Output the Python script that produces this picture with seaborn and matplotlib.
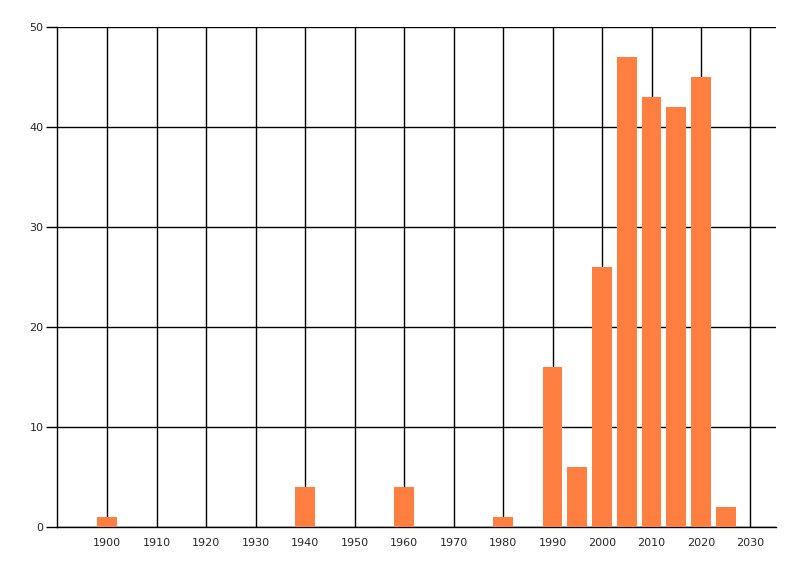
import matplotlib
matplotlib.use("Agg")
import matplotlib.pyplot as plt
import seaborn as sns
import pandas as pd

years = [1900, 1940, 1960, 1980, 1990, 1995, 2000, 2005, 2010, 2015, 2020, 2025]
counts = [1, 4, 4, 1, 16, 6, 26, 47, 43, 42, 45, 2]
x_ticks = list(range(1900, 2031, 10))
y_ticks = [0, 10, 20, 30, 40, 50]

df = pd.DataFrame({"year": years, "count": counts})

sns.set_style("white")
plt.rcParams["font.family"] = ["DejaVu Sans"]

fig = plt.figure(figsize=(8, 5.76), dpi=100)
ax = fig.add_axes([57.3/800, 1 - 527/576, (775.7 - 57.3)/800, (527 - 27)/576])
ax.set_axisbelow(True)

sns.barplot(data=df, x="year", y="count", native_scale=True, width=0.8,
            color="#FF7F40", saturation=1, edgecolor="none", ax=ax, zorder=3)

ax.set_xlim(1889.9, 2035.1)
ax.set_ylim(0, 50)
ax.set_xticks(x_ticks)
ax.set_xticklabels([str(t) for t in x_ticks], fontsize=8)
ax.set_yticks(y_ticks)
ax.set_yticklabels([str(t) for t in y_ticks], fontsize=8)
ax.grid(True, color="black", linewidth=1)
ax.set_xlabel("")
ax.set_ylabel("")
for s in ["top", "right"]:
    ax.spines[s].set_visible(False)
for s in ["left", "bottom"]:
    ax.spines[s].set_color("black")
    ax.spines[s].set_linewidth(1)
ax.tick_params(axis="y", length=8, width=1, color="black", left=True, pad=2)
ax.tick_params(axis="x", length=0, pad=8)

fig.savefig("out.png", dpi=100)
